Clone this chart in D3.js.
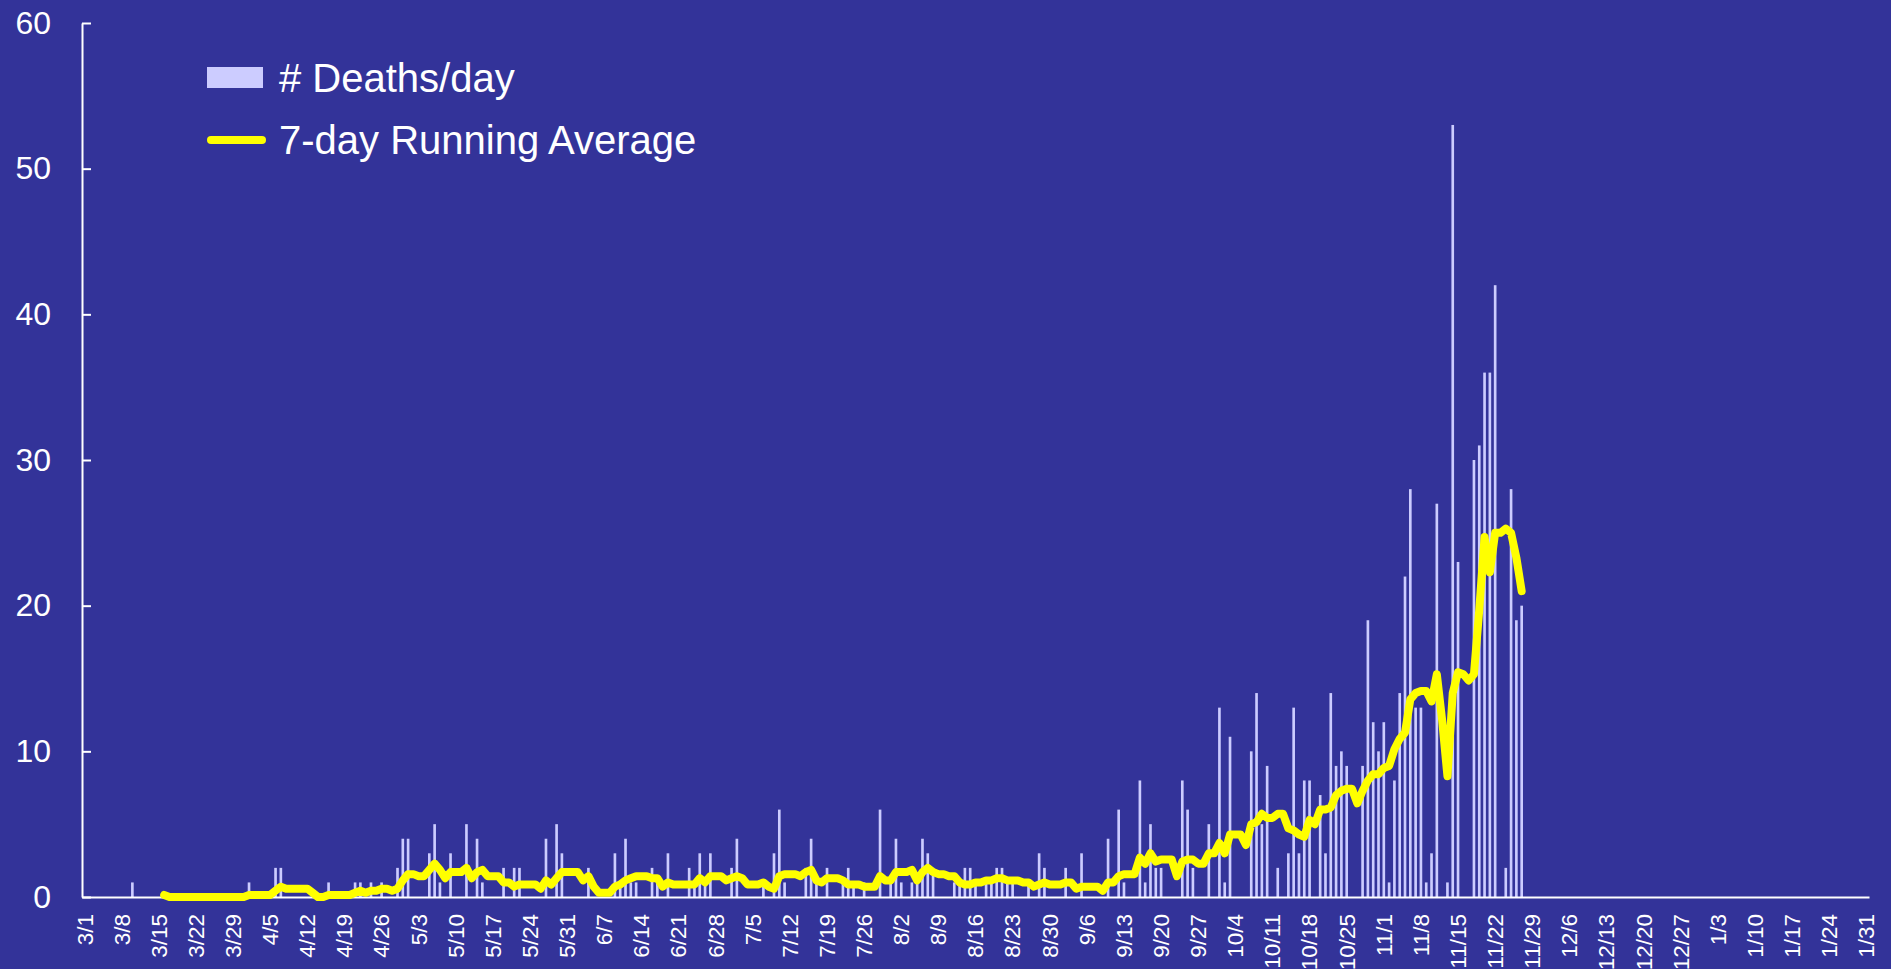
<!DOCTYPE html>
<html>
<head>
<meta charset="utf-8">
<script src="https://cdn.jsdelivr.net/npm/d3@7"></script>
<style>
  body { margin: 0; background: #333399; }
  text { font-family: "Liberation Sans", Arial, sans-serif; fill: #fff; }
</style>
</head>
<body>
<div id="chart"></div>
<script>
// date range of the category axis
var firstDay = "2020-03-01";
var lastDay = "2021-01-31";

// deaths per day, by month (Mar 1 .. Nov 27)
var deathsMar = [0,0,0,0,0,0,0,0,0,1, 0,0,0,0,0,0,0,0,0,0, 0,0,0,0,0,0,0,0,0,0, 0];
var deathsApr = [1,0,0,0,0,2,2,0,0,0, 0,0,0,0,0,1,0,0,0,0, 1,1,0,1,0,1,0,0,2,4];
var deathsMay = [4,0,0,0,3,5,1,0,3,0, 0,5,0,4,1,0,0,0,2,0, 2,2,0,0,0,0,4,0,5,3, 0];
var deathsJun = [0,0,0,2,0,0,0,0,3,1, 4,1,1,0,0,2,1,0,3,0, 0,0,2,1,3,1,3,0,0,0];
var deathsJul = [2,4,0,0,0,0,1,0,3,6, 1,0,0,0,2,4,1,0,2,0, 0,1,2,1,0,1,0,0,6,0, 1];
var deathsAug = [4,1,0,1,1,4,3,2,0,0, 0,1,1,2,2,1,0,1,1,2, 2,1,1,0,0,1,0,3,2,0, 0];
var deathsSep = [0,2,0,0,3,0,0,0,0,4, 0,6,1,0,0,8,1,5,2,2, 0,0,0,8,6,2,0,0,5,0];
var deathsOct = [13,1,11,0,0,0,10,14,5,9, 0,2,0,3,13,3,8,8,0,7, 3,14,9,10,9,0,0,9,19,12, 10];
var deathsNov = [12,1,8,14,22,28,13,13,1,3, 27,0,1,53,23,0,0,30,31,36, 36,42,0,2,28,19,20];

// 7-day running average, first point on 3/16
var avgFirstDay = "3/16";
var avgMar = [0.14,0,0,0,0,0,0,0,0,0, 0,0,0,0,0,0];
var avgApr = [0.14,0.14,0.14,0.14,0.14,0.43,0.71,0.57,0.57,0.57, 0.57,0.57,0.29,0,0,0.14,0.14,0.14,0.14,0.14, 0.29,0.43,0.29,0.43,0.43,0.57,0.57,0.43,0.57,1.14];
var avgMay = [1.57,1.57,1.43,1.43,1.86,2.29,1.86,1.29,1.71,1.71, 1.71,2,1.29,1.71,1.86,1.43,1.43,1.43,1,1, 0.71,0.86,0.86,0.86,0.86,0.57,1.14,0.86,1.29,1.71, 1.71];
var avgJun = [1.71,1.71,1.14,1.43,0.71,0.29,0.29,0.29,0.71,0.86, 1.14,1.29,1.43,1.43,1.43,1.29,1.29,0.71,1,0.86, 0.86,0.86,0.86,0.86,1.29,1,1.43,1.43,1.43,1.14];
var avgJul = [1.29,1.43,1.29,0.86,0.86,0.86,1,0.71,0.57,1.43, 1.57,1.57,1.57,1.43,1.71,1.86,1.14,1,1.29,1.29, 1.29,1.14,0.86,0.86,0.86,0.71,0.71,0.71,1.43,1.14, 1.14];
var avgAug = [1.71,1.71,1.71,1.86,1.14,1.71,2,1.71,1.57,1.57, 1.43,1.43,1,0.86,0.86,1,1,1.14,1.14,1.29, 1.29,1.14,1.14,1.14,1,1,0.71,0.86,1,0.86, 0.86];
var avgSep = [0.86,1,1,0.57,0.71,0.71,0.71,0.71,0.43,1, 1,1.43,1.57,1.57,1.57,2.71,2.29,3,2.43,2.57, 2.57,2.57,1.43,2.43,2.57,2.57,2.29,2.29,3,3];
var avgOct = [3.71,3,4.29,4.29,4.29,3.57,5,5.14,5.71,5.43, 5.43,5.71,5.71,4.71,4.57,4.29,4.14,5.29,5,6, 6,6.14,7,7.29,7.43,7.43,6.43,7.29,8,8.43, 8.43];
var avgNov = [8.86,9,10.14,10.86,11.29,13.57,14,14.14,14.14,13.43, 15.29,12.14,8.29,14,15.43,15.29,14.86,15.29,19.71,24.71, 22.29,25,25,25.29,25,23.29,21];

var yTicks = [0, 10, 20, 30, 40, 50, 60];
var xTickLabels = ["3/1","3/8","3/15","3/22","3/29","4/5","4/12","4/19","4/26","5/3","5/10","5/17",
  "5/24","5/31","6/7","6/14","6/21","6/28","7/5","7/12","7/19","7/26","8/2","8/9","8/16","8/23",
  "8/30","9/6","9/13","9/20","9/27","10/4","10/11","10/18","10/25","11/1","11/8","11/15","11/22",
  "11/29","12/6","12/13","12/20","12/27","1/3","1/10","1/17","1/24","1/31"];

var legendItems = ["# Deaths/day", "7-day Running Average"];

// ---------------------------------------------------------------
var width = 1891, height = 969;
var margin = {top: 23, right: 22, bottom: 72, left: 82};

var svg = d3.select("#chart").append("svg")
  .attr("width", width)
  .attr("height", height);

svg.append("rect").attr("width", width).attr("height", height).attr("fill", "#333399");

var parse = d3.timeParse("%Y-%m-%d"), fmt = d3.timeFormat("%-m/%-d");
var days = d3.timeDay.range(parse(firstDay), d3.timeDay.offset(parse(lastDay), 1)).map(fmt);

var deaths = [].concat(deathsMar, deathsApr, deathsMay, deathsJun, deathsJul,
                       deathsAug, deathsSep, deathsOct, deathsNov);
var avg = [].concat(avgMar, avgApr, avgMay, avgJun, avgJul, avgAug, avgSep, avgOct, avgNov);
var avgStart = days.indexOf(avgFirstDay);

var barData = deaths.map(function(v, i) { return {day: days[i], v: v}; })
  .filter(function(d) { return d.v > 0; });
var avgData = avg.map(function(v, i) { return {day: days[avgStart + i], v: v}; });

var x = d3.scaleBand()
  .domain(days)
  .range([margin.left, width - margin.right])
  .paddingInner(0.5)
  .paddingOuter(0.25);

var y = d3.scaleLinear()
  .domain([0, 60])
  .range([height - margin.bottom, margin.top]);

// bars
svg.append("g")
  .selectAll("rect")
  .data(barData)
  .enter()
  .append("rect")
    .attr("x", function(d) { return x(d.day); })
    .attr("y", function(d) { return y(d.v); })
    .attr("width", x.bandwidth())
    .attr("height", function(d) { return y(0) - y(d.v); })
    .attr("fill", "#ccccff");

// y axis
var yAxis = svg.append("g")
  .attr("transform", "translate(" + margin.left + ",0)")
  .call(d3.axisLeft(y).tickValues(yTicks).tickSize(-9).tickSizeOuter(0).tickPadding(31));
yAxis.selectAll("path, line").attr("stroke", "#fff").attr("stroke-width", 2);
yAxis.selectAll("text").style("font-size", "32px").attr("fill", "#fff");

// x axis
var xAxis = svg.append("g")
  .attr("transform", "translate(0," + y(0) + ")")
  .call(d3.axisBottom(x).tickValues(xTickLabels).tickSize(0).tickSizeOuter(0));
xAxis.select(".domain").attr("stroke", "#fff").attr("stroke-width", 2);
xAxis.selectAll(".tick text")
  .attr("transform", "rotate(-90)")
  .attr("x", -17)
  .attr("y", 0)
  .attr("dy", "0.35em")
  .style("text-anchor", "end")
  .style("font-size", "22.5px")
  .attr("fill", "#fff");

// running average line
var line = d3.line()
  .x(function(d) { return x(d.day) + x.bandwidth() / 2; })
  .y(function(d) { return y(d.v); });

svg.append("path")
  .datum(avgData)
  .attr("d", line)
  .attr("fill", "none")
  .attr("stroke", "#ffff00")
  .attr("stroke-width", 8)
  .attr("stroke-linejoin", "round")
  .attr("stroke-linecap", "round");

// legend
var legend = svg.append("g");
legend.append("rect")
  .attr("x", 207).attr("y", 67)
  .attr("width", 56).attr("height", 21)
  .attr("fill", "#ccccff");
legend.append("line")
  .attr("x1", 211).attr("x2", 262)
  .attr("y1", 140).attr("y2", 140)
  .attr("stroke", "#ffff00")
  .attr("stroke-width", 8)
  .attr("stroke-linecap", "round");
legend.selectAll("text.lg")
  .data(legendItems)
  .enter()
  .append("text")
    .attr("class", "lg")
    .attr("x", 279)
    .attr("y", function(d, i) { return 92 + i * 62; })
    .style("font-size", "40px")
    .text(function(d) { return d; });
</script>
</body>
</html>
